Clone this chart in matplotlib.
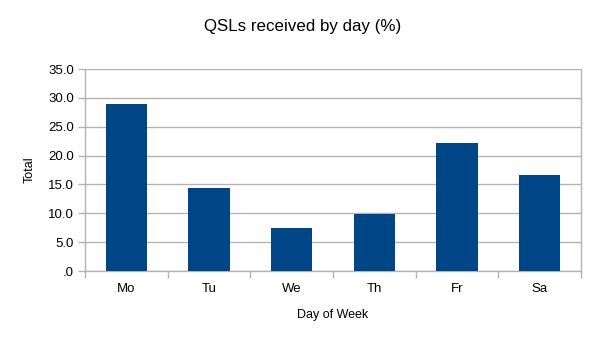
import matplotlib
matplotlib.use("Agg")
import matplotlib.pyplot as plt
from matplotlib.ticker import FuncFormatter

days = ["Mo", "Tu", "We", "Th", "Fr", "Sa"]
totals = [29.0, 14.4, 7.5, 9.8, 22.1, 16.7]
y_ticks = [0, 5, 10, 15, 20, 25, 30, 35]

plt.rcParams["font.family"] = ["Liberation Sans", "DejaVu Sans"]

fig = plt.figure(figsize=(6.05, 3.4), dpi=100)
ax = fig.add_axes([85 / 605, 69 / 340, 496 / 605, 202 / 340])

x = range(len(days))
ax.bar(x, totals, width=0.5, color="#004586", zorder=3)

ax.set_xlim(-0.5, len(days) - 0.5)
ax.set_ylim(0, 35)
ax.set_yticks(y_ticks)
ax.yaxis.set_major_formatter(FuncFormatter(lambda v, p: ".0" if v == 0 else "%.1f" % v))
ax.set_xticks(list(x))
ax.set_xticklabels(days)
ax.set_xticks([i - 0.5 for i in range(len(days) + 1)], minor=True)

ax.grid(axis="y", color="#b3b3b3", linewidth=1, zorder=0)
for s in ax.spines.values():
    s.set_color("#b3b3b3")
    s.set_linewidth(1)
ax.spines["top"].set_visible(False)

ax.tick_params(axis="x", which="major", length=0, labelsize=9.5, pad=9)
ax.tick_params(axis="x", which="minor", length=5, color="#b3b3b3", width=1)
ax.tick_params(axis="y", length=5, color="#b3b3b3", width=1, labelsize=9.5, pad=3)

ax.set_xlabel("Day of Week", fontsize=9, labelpad=10)
ax.set_ylabel("Total", fontsize=9, labelpad=9)
fig.suptitle("QSLs received by day (%)", fontsize=12.2, y=1 - 26 / 340, va="center")

fig.savefig("out.png", dpi=100, facecolor="white")
